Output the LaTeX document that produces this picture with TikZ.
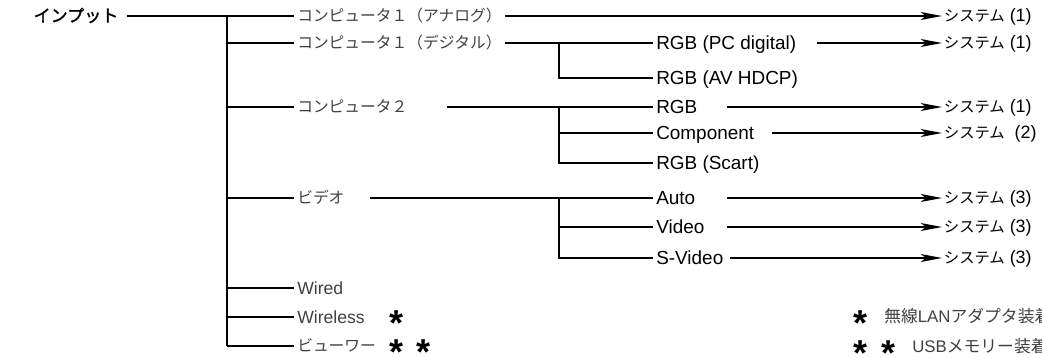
\documentclass[tikz,border=0pt]{standalone}
\usepackage{fontspec}
\setmainfont{Liberation Sans}
\newfontfamily\jpfont{Noto Sans CJK JP}
\newfontfamily\jpbold[FakeBold=1.4]{Noto Sans CJK JP}
\usetikzlibrary{arrows.meta}
\newcommand{\stmark}{\raisebox{-0.5em}{\bfseries *}}
\newcommand{\sysjp}[1]{{\jpfont\fontsize{11.5}{12}\selectfont システム}#1}

\begin{document}
\begin{tikzpicture}[x=0.75pt, y=-0.75pt, line width=0.9pt,
    jp/.style={anchor=west, inner sep=2pt, text=black!75, font=\jpfont\fontsize{11.8}{12}\selectfont, text height=10pt, text depth=1.2pt},
    en/.style={anchor=west, inner sep=2pt, font=\fontsize{14.2}{15}\selectfont, text height=11pt, text depth=0.8pt},
    sys/.style={anchor=west, inner sep=1pt, font=\fontsize{13.4}{14}\selectfont, text height=9.5pt, text depth=1pt},
    astk/.style={anchor=center, inner sep=0pt, text height=5pt, text depth=5pt, font=\fontsize{27}{27}\selectfont},
    arr/.style={-{Stealth[length=16pt, width=6pt, inset=4pt]}}]
    \useasboundingbox (0,0) rectangle (1042,357);
    % first level
    \node[jp, inner sep=6pt, text=black, font=\jpbold\fontsize{12.8}{13}\selectfont] (inp) at (25,16) {インプット};
    \node[jp] (ana) at (294,16) {コンピュータ１（アナログ）}; \node[jp] (dig) at (294,43) {コンピュータ１（デジタル）};
    \node[jp] (pc2) at (294,107) {コンピュータ２}; \node[jp] (vid) at (294,198) {ビデオ};
    \node[en, text=black!75, font=\fontsize{13.2}{14}\selectfont] (wired) at (294,288) {Wired};
    \node[en, text=black!75, font=\fontsize{13.2}{14}\selectfont] (wless) at (294,317) {Wireless};
    \node[jp] (viewer) at (294,346) {ビューワー};
    \node[astk] (w1) at (397,317) {\stmark}; \node[astk] (v1) at (397,346) {\stmark}; \node[astk] (v2) at (423,346) {\stmark};
    % second level
    \node[en] (pcd) at (653,43) {RGB (PC digital)}; \node[en] (hdcp) at (653,78) {RGB (AV HDCP)};
    \node[en] (rgb) at (653,107) {RGB}; \node[en] (comp) at (653,133) {Component}; \node[en] (scart) at (653,163) {RGB (Scart)};
    \node[en] (vauto) at (653,198) {Auto}; \node[en] (video) at (653,227) {Video}; \node[en] (svid) at (653,258) {S-Video};
    % systems
    \node[sys] (s1) at (942,16) {\sysjp{ (1)}}; \node[sys] (s2) at (942,43) {\sysjp{ (1)}};
    \node[sys] (s3) at (942,107) {\sysjp{ (1)}}; \node[sys] (s4) at (942,133) {\sysjp{\ \ (2)}};
    \node[sys] (s5) at (942,198) {\sysjp{ (3)}}; \node[sys] (s6) at (942,227) {\sysjp{ (3)}};
    \node[sys] (s7) at (942,258) {\sysjp{ (3)}};
    % notes
    \node[astk] (n1) at (860,317) {\stmark}; \node[jp, font=\jpfont\fontsize{12.6}{13}\selectfont] (n1t) at (881,317) {無線{\rmfamily LAN}アダプタ装着};
    \node[astk] (n2) at (860,347) {\stmark}; \node[astk] (n3) at (888,347) {\stmark};
    \node[jp, font=\jpfont\fontsize{12.6}{13}\selectfont] (n2t) at (909,347) {{\rmfamily USB}メモリー装着};

    \coordinate (t) at (227,16); \coordinate (u) at (559,0);
    \coordinate (pc2o) at (447,107); \coordinate (vido) at (370,198);
    \coordinate (pcdo) at (817,43); \coordinate (rgbo) at (727,107); \coordinate (compo) at (772,133);
    \coordinate (autoo) at (727,198); \coordinate (videoo) at (727,227); \coordinate (svido) at (730,258);
    \draw (inp.east) -- (ana.west) (t) -- (t |- viewer.west);
    \foreach \n in {dig,pc2,vid,wired,wless,viewer} \draw (t |- \n.west) -- (\n.west);
    \draw (dig.east) -- (pcd.west) (u |- pcd.west) |- (hdcp.west);
    \draw (pc2o) -- (rgb.west) (u |- rgb.west) |- (scart.west) (u |- comp.west) -- (comp.west);
    \draw (vido) -- (vauto.west) (u |- vauto.west) |- (svid.west) (u |- video.west) -- (video.west);
    % arrows
    \draw[arr] (ana.east) -- (s1.west); \draw[arr] (pcdo) -- (s2.west);
    \draw[arr] (rgbo) -- (s3.west); \draw[arr] (compo) -- (s4.west);
    \draw[arr] (autoo) -- (s5.west); \draw[arr] (videoo) -- (s6.west); \draw[arr] (svido) -- (s7.west);
\end{tikzpicture}
\end{document}
